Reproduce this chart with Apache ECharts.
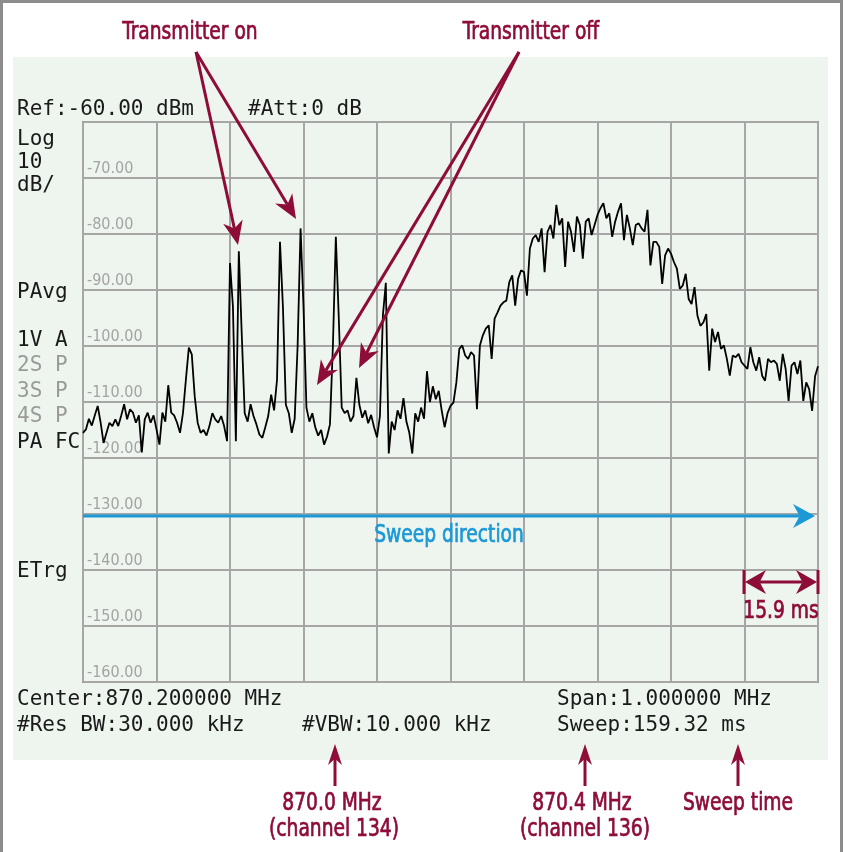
<!DOCTYPE html>
<html>
<head>
<meta charset="utf-8">
<script src="https://cdn.jsdelivr.net/npm/echarts@6/dist/echarts.min.js"></script>
<style>
html, body { margin: 0; padding: 0; background: #fff; }
#chart { width: 845px; height: 852px; }
</style>
</head>
<body>
<div id="chart"></div>
<script>
// sweep: 869.7 - 870.7 MHz, one point every 4 kHz
const startKHz = 869700;
const stopKHz = 870700;
const stepKHz = 4;
const refLevel = -60;
const bottomLevel = -160;
const dbPerDiv = 10;

// trace, dBm
const levels = [
  -115.5, -114.9, -113.0, -114.2, -112.4, -110.7, -113.7, -117.3, -115.5, -113.7, -114.3, -113.1, -114.3, -112.4, -110.4, -113.1, -111.3, -111.9, -113.7, -112.4, -119.0, -113.1, -111.9, -113.7, -112.4,
  -114.9, -117.6, -111.9, -113.5, -107.0, -111.9, -112.4, -113.7, -115.5, -112.0, -106.0, -100.3, -101.5, -109.0, -113.7, -115.5, -115.0, -116.0, -114.3, -112.0, -113.1, -113.7, -112.5, -114.3, -117.0,
  -85.2, -93.0, -117.0, -83.1, -98.0, -112.0, -113.5, -110.4, -112.5, -114.0, -115.8, -116.4, -114.5, -112.5, -108.7, -111.5, -106.0, -81.4, -93.0, -110.5, -112.0, -115.5, -113.0, -100.0, -79.0,
  -93.0, -111.0, -113.5, -112.0, -114.5, -116.0, -115.0, -117.6, -116.2, -114.0, -100.0, -80.5, -95.0, -111.0, -112.0, -111.5, -113.5, -112.5, -105.7, -110.5, -112.8, -111.5, -113.8, -112.3, -114.5,
  -116.3, -112.5, -94.6, -88.7, -119.2, -113.5, -115.0, -111.5, -113.0, -109.3, -113.5, -115.5, -119.2, -112.0, -113.5, -111.0, -113.0, -104.5, -110.0, -107.2, -109.5, -108.0, -111.5, -114.5, -112.0,
  -110.7, -110.1, -106.5, -100.5, -99.9, -101.7, -102.3, -101.1, -101.7, -111.3, -99.9, -98.1, -96.9, -96.3, -102.3, -95.1, -94.0, -92.8, -92.2, -91.9, -88.6, -87.4, -92.8, -88.0, -86.5,
  -86.8, -91.0, -82.6, -80.8, -80.2, -81.4, -79.0, -86.8, -79.6, -78.4, -80.8, -74.8, -78.4, -77.2, -85.9, -77.8, -79.6, -83.2, -76.9, -78.4, -84.4, -77.8, -77.2, -80.2, -78.4,
  -76.6, -75.4, -74.5, -77.2, -76.3, -80.5, -77.8, -76.0, -74.5, -81.1, -76.6, -79.0, -82.0, -78.4, -78.1, -79.0, -79.6, -75.7, -85.6, -81.4, -81.4, -82.3, -88.9, -83.8, -82.6,
  -83.5, -85.0, -86.2, -89.8, -89.2, -87.1, -91.6, -92.5, -89.5, -94.6, -96.4, -95.8, -94.3, -104.4, -96.9, -99.3, -97.5, -100.5, -99.9, -102.3, -105.3, -101.7, -102.0, -101.4, -102.9,
  -103.5, -104.1, -100.2, -102.9, -104.4, -102.0, -105.3, -106.2, -102.3, -102.9, -102.6, -103.2, -106.2, -101.4, -104.1, -109.8, -103.5, -102.9, -105.0, -102.6, -109.8, -106.5, -107.7, -111.6, -105.4, -103.6
];

const headerLines = ['Ref:-60.00 dBm', '#Att:0 dB'];
const sideBlack = ['Log', '10', 'dB/', 'PAvg', '1V A', 'PA FC', 'ETrg'];
const sideGray = ['2S P', '3S P', '4S P'];
const footerLines = ['Center:870.200000 MHz', '#Res BW:30.000 kHz', '#VBW:10.000 kHz', 'Span:1.000000 MHz', 'Sweep:159.32 ms'];

const red = '#8e0c38';
const blue = '#1b98d6';
const mono = '21px "DejaVu Sans Mono", monospace';
const noteFont = '25px "DejaVu Sans Condensed", "DejaVu Sans", sans-serif';

const trace = levels.map((v, i) => [startKHz + i * stepKHz, v]);

function label(text, x, y, color) {
  return {
    type: 'text', z: 100,
    style: { text: text, x: x, y: y, fill: color, font: mono, textAlign: 'left', textVerticalAlign: 'middle' }
  };
}

// narrow callout text: squeeze condensed font to look like the original
function note(text, x, y, color) {
  return {
    type: 'text', z: 100, x: x, y: y, scaleX: 0.83,
    style: { text: text, x: 0, y: 0, fill: color, stroke: color, lineWidth: 0.7, font: noteFont, textAlign: 'center', textVerticalAlign: 'middle' }
  };
}

function arrow(x1, y1, x2, y2, color, width, head, wing) {
  const dx = x2 - x1, dy = y2 - y1;
  const len = Math.sqrt(dx * dx + dy * dy);
  const ux = dx / len, uy = dy / len;
  const nx = -uy, ny = ux;
  const bx = x2 - ux * head, by = y2 - uy * head;
  const mx = x2 - ux * head * 0.7, my = y2 - uy * head * 0.7;
  return [
    { type: 'line', z: 100, shape: { x1: x1, y1: y1, x2: mx, y2: my }, style: { stroke: color, lineWidth: width } },
    { type: 'polygon', z: 100, shape: { points: [[x2, y2], [bx + nx * wing, by + ny * wing], [mx, my], [bx - nx * wing, by - ny * wing]] }, style: { fill: color } }
  ];
}

const graphics = [
  { type: 'rect', z: -10, shape: { x: 1.5, y: 1.5, width: 840, height: 860 }, style: { fill: '#fff', stroke: '#8c8c8c', lineWidth: 3 } },
  { type: 'rect', z: -9, shape: { x: 13, y: 57, width: 815, height: 703 }, style: { fill: '#eef5ef' } },
  label(headerLines[0], 17, 110, '#1a1a1a'),
  label(headerLines[1], 248, 110, '#1a1a1a'),
  label(sideBlack[0], 17, 140, '#1a1a1a'),
  label(sideBlack[1], 17, 163, '#1a1a1a'),
  label(sideBlack[2], 17, 186, '#1a1a1a'),
  label(sideBlack[3], 17, 293, '#1a1a1a'),
  label(sideBlack[4], 17, 341, '#1a1a1a'),
  label(sideGray[0], 17, 366, '#9a9a9a'),
  label(sideGray[1], 17, 392, '#9a9a9a'),
  label(sideGray[2], 17, 417, '#9a9a9a'),
  label(sideBlack[5], 17, 443, '#1a1a1a'),
  label(sideBlack[6], 17, 572, '#1a1a1a'),
  label(footerLines[0], 17, 700, '#1a1a1a'),
  label(footerLines[1], 17, 726, '#1a1a1a'),
  label(footerLines[2], 302, 726, '#1a1a1a'),
  label(footerLines[3], 557, 700, '#1a1a1a'),
  label(footerLines[4], 557, 726, '#1a1a1a'),

  note('Transmitter on', 190, 32, red),
  note('Transmitter off', 531, 32, red),
  note('870.0 MHz', 332, 803, red),
  note('(channel 134)', 334, 829, red),
  note('870.4 MHz', 582, 803, red),
  note('(channel 136)', 585, 829, red),
  note('Sweep time', 738, 803, red),
  note('15.9 ms', 781, 611, red),
  note('Sweep direction', 449, 535, blue),

  { type: 'line', z: 100, shape: { x1: 744, y1: 570, x2: 744, y2: 594 }, style: { stroke: red, lineWidth: 3 } },
  { type: 'line', z: 100, shape: { x1: 818, y1: 570, x2: 818, y2: 594 }, style: { stroke: red, lineWidth: 3 } }
]
  .concat(arrow(196, 52, 238, 245, red, 3, 24, 10))
  .concat(arrow(196, 52, 296, 219, red, 3, 24, 10))
  .concat(arrow(519, 52, 317, 385, red, 3, 24, 10))
  .concat(arrow(519, 52, 359, 368, red, 3, 24, 10))
  .concat(arrow(335, 786, 335, 744, red, 3, 21, 7))
  .concat(arrow(585, 786, 585, 744, red, 3, 21, 7))
  .concat(arrow(738, 786, 738, 744, red, 3, 21, 7))
  .concat(arrow(781, 582, 745, 582, red, 3, 21, 12))
  .concat(arrow(781, 582, 817, 582, red, 3, 21, 12))
  .concat(arrow(83, 516, 815, 516, blue, 3, 22, 12));

const chart = echarts.init(document.getElementById('chart'), null, { renderer: 'canvas' });
chart.setOption({
  animation: false,
  backgroundColor: '#fff',
  grid: { left: 83, top: 122, width: 735, height: 560, show: true, borderColor: '#8f8f8f', borderWidth: 2, backgroundColor: 'transparent' },
  xAxis: {
    type: 'value', min: startKHz, max: stopKHz, interval: 100,
    axisLine: { show: false }, axisTick: { show: false }, axisLabel: { show: false },
    splitLine: { show: true, lineStyle: { color: '#a6a6a6', width: 2 } }
  },
  yAxis: {
    type: 'value', min: bottomLevel, max: refLevel, interval: dbPerDiv,
    axisLine: { show: false }, axisTick: { show: false },
    axisLabel: {
      inside: true, margin: 4, align: 'left', verticalAlign: 'bottom', padding: [0, 0, 1, 0],
      color: '#a3a3a3', fontFamily: 'DejaVu Sans Condensed', fontSize: 16,
      formatter: v => v === refLevel ? '' : v.toFixed(2)
    },
    splitLine: { show: true, lineStyle: { color: '#a6a6a6', width: 2 } }
  },
  series: [{
    type: 'line', data: trace, showSymbol: false, z: 5,
    lineStyle: { color: '#000', width: 1.8 }
  }],
  graphic: graphics
});
</script>
</body>
</html>
